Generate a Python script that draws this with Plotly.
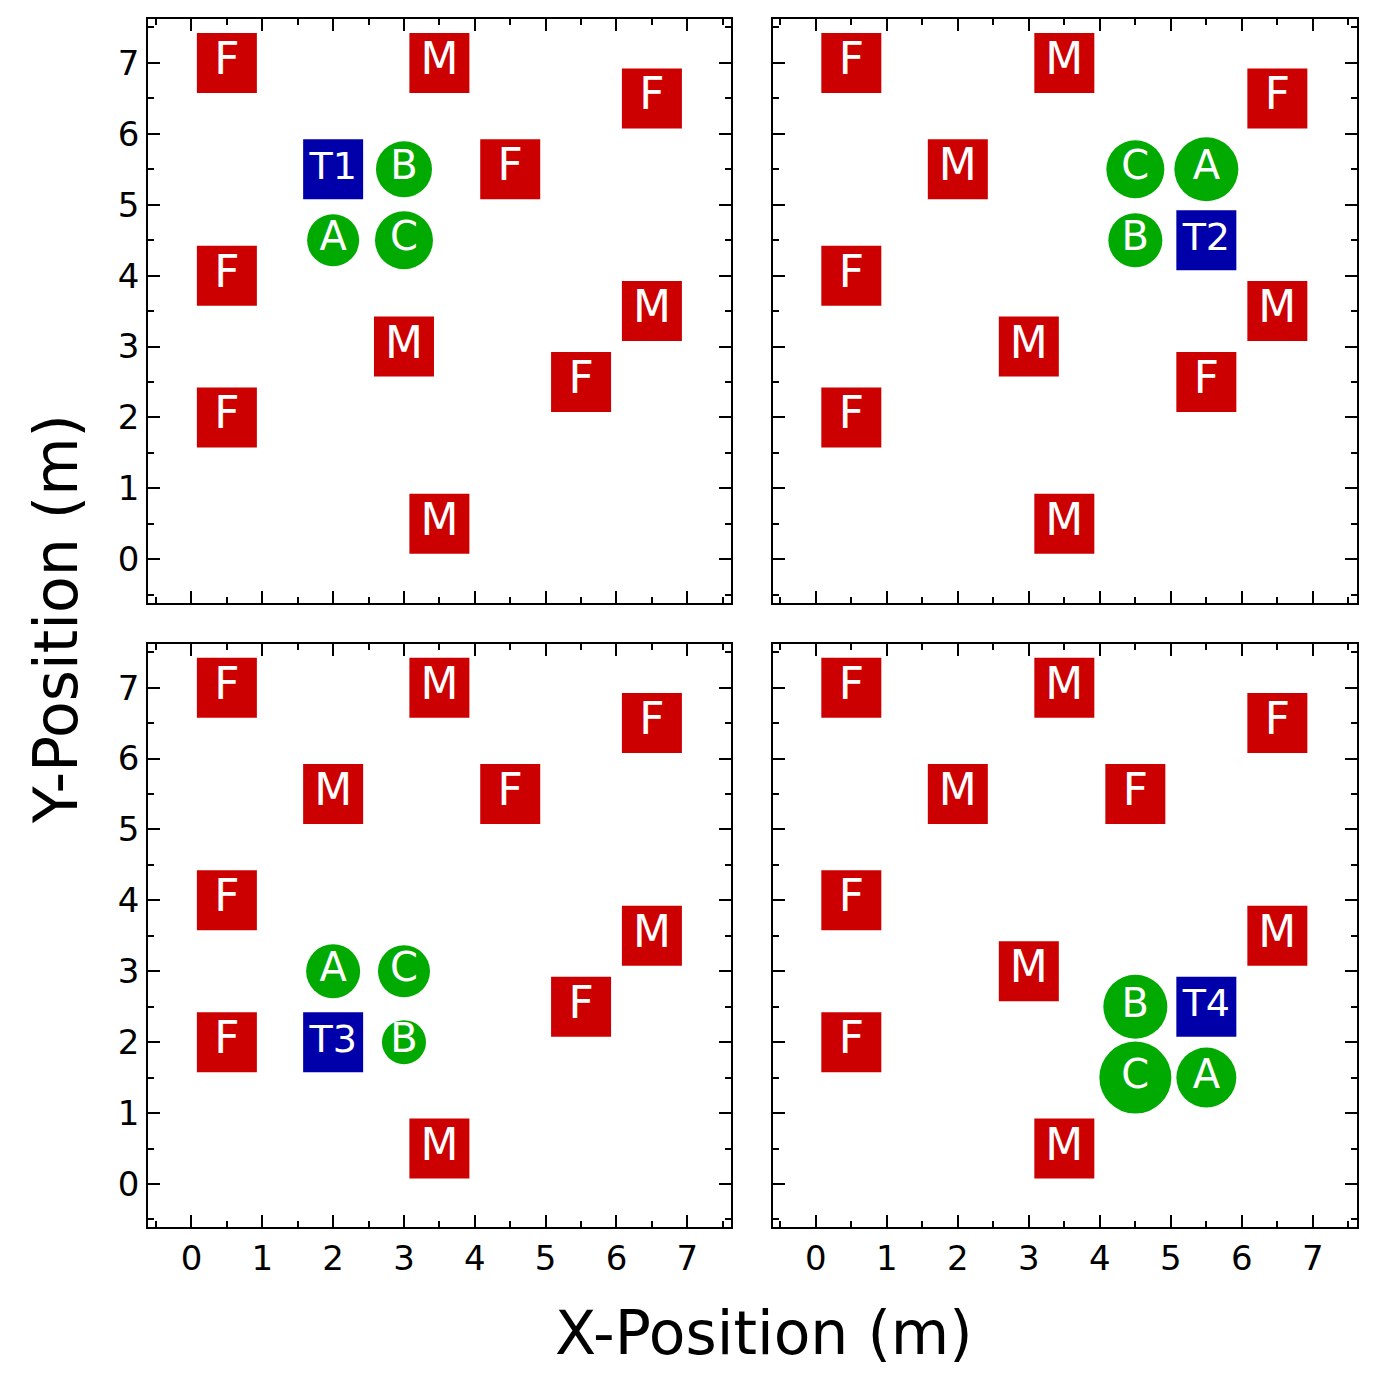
import plotly.graph_objects as go

# red squares (people) shared layout per panel
panels = [
    {  # top-left
        "sq_x": [0.5, 3.5, 6.5, 4.5, 0.5, 6.5, 3.0, 5.5, 0.5, 3.5],
        "sq_y": [7.0, 7.0, 6.5, 5.5, 4.0, 3.5, 3.0, 2.5, 2.0, 0.5],
        "sq_t": ["F", "M", "F", "F", "F", "M", "M", "F", "F", "M"],
        "t_x": 2.0, "t_y": 5.5, "t_t": "T1",
        "c_x": [3.0, 2.0, 3.0], "c_y": [5.5, 4.5, 4.5], "c_t": ["B", "A", "C"],
        "c_s": [56, 52, 58],
    },
    {  # top-right
        "sq_x": [0.5, 3.5, 6.5, 2.0, 0.5, 6.5, 3.0, 5.5, 0.5, 3.5],
        "sq_y": [7.0, 7.0, 6.5, 5.5, 4.0, 3.5, 3.0, 2.5, 2.0, 0.5],
        "sq_t": ["F", "M", "F", "M", "F", "M", "M", "F", "F", "M"],
        "t_x": 5.5, "t_y": 4.5, "t_t": "T2",
        "c_x": [4.5, 5.5, 4.5], "c_y": [5.5, 5.5, 4.5], "c_t": ["C", "A", "B"],
        "c_s": [58, 64, 54],
    },
    {  # bottom-left
        "sq_x": [0.5, 3.5, 6.5, 2.0, 4.5, 0.5, 6.5, 5.5, 0.5, 3.5],
        "sq_y": [7.0, 7.0, 6.5, 5.5, 5.5, 4.0, 3.5, 2.5, 2.0, 0.5],
        "sq_t": ["F", "M", "F", "M", "F", "F", "M", "F", "F", "M"],
        "t_x": 2.0, "t_y": 2.0, "t_t": "T3",
        "c_x": [2.0, 3.0, 3.0], "c_y": [3.0, 3.0, 2.0], "c_t": ["A", "C", "B"],
        "c_s": [54, 52, 44],
    },
    {  # bottom-right
        "sq_x": [0.5, 3.5, 6.5, 2.0, 4.5, 0.5, 6.5, 3.0, 0.5, 3.5],
        "sq_y": [7.0, 7.0, 6.5, 5.5, 5.5, 4.0, 3.5, 3.0, 2.0, 0.5],
        "sq_t": ["F", "M", "F", "M", "F", "F", "M", "M", "F", "M"],
        "t_x": 5.5, "t_y": 2.5, "t_t": "T4",
        "c_x": [4.5, 4.5, 5.5], "c_y": [2.5, 1.5, 1.5], "c_t": ["B", "C", "A"],
        "c_s": [64, 72, 60],
    },
]

x_domains = [[0.102, 0.526], [0.556, 0.981], [0.102, 0.526], [0.556, 0.981]]
y_domains = [[0.567, 0.992], [0.567, 0.992], [0.112, 0.537], [0.112, 0.537]]

RED = "#cc0000"
BLUE = "#0000aa"
GREEN = "#00aa00"
FONT = "DejaVu Sans"

fig = go.Figure()
layout = {}
for i, p in enumerate(panels):
    n = "" if i == 0 else str(i + 1)
    xa, ya = "x" + n, "y" + n
    common = dict(xaxis=xa, yaxis=ya, mode="markers+text", showlegend=False,
                  hoverinfo="skip", textposition="middle center")
    fig.add_trace(go.Scatter(x=p["sq_x"], y=p["sq_y"], text=p["sq_t"],
                             marker=dict(symbol="square", size=60, color=RED, opacity=1),
                             textfont=dict(color="white", size=44, family=FONT),
                             **common))
    fig.add_trace(go.Scatter(x=[p["t_x"]], y=[p["t_y"]], text=[p["t_t"]],
                             marker=dict(symbol="square", size=60, color=BLUE, opacity=1),
                             textfont=dict(color="white", size=38, family=FONT),
                             **common))
    fig.add_trace(go.Scatter(x=p["c_x"], y=p["c_y"], text=p["c_t"],
                             marker=dict(symbol="circle", size=p["c_s"], color=GREEN,
                                         opacity=1, line=dict(width=0)),
                             textfont=dict(color="white", size=40, family=FONT),
                             **common))
    ax = dict(range=[-0.61, 7.62], tickvals=list(range(8)), ticks="inside",
              ticklen=12, tickwidth=2, tickcolor="black", showline=True,
              linecolor="black", linewidth=2, mirror="ticks", showgrid=False,
              zeroline=False, tickfont=dict(size=34, family=FONT, color="black"),
              minor=dict(tickvals=[x + 0.5 for x in range(-1, 8)], ticks="inside",
                         ticklen=6, tickwidth=2, tickcolor="black"))
    xd = dict(ax, domain=x_domains[i], anchor=ya, showticklabels=i >= 2)
    yd = dict(ax, domain=y_domains[i], anchor=xa, showticklabels=i % 2 == 0)
    layout["xaxis" + n] = xd
    layout["yaxis" + n] = yd

fig.update_layout(**layout)
fig.update_layout(
    width=1375, height=1373, margin=dict(l=0, r=0, t=0, b=0),
    plot_bgcolor="white", paper_bgcolor="white",
    annotations=[
        dict(text="X-Position (m)", x=0.55, y=0.035, xref="paper", yref="paper",
             xanchor="center", yanchor="middle", showarrow=False,
             font=dict(size=60, family=FONT, color="black")),
        dict(text="Y-Position (m)", x=0.035, y=0.555, xref="paper", yref="paper",
             xanchor="center", yanchor="middle", showarrow=False, textangle=-90,
             font=dict(size=60, family=FONT, color="black")),
    ],
)

fig.write_html("out.html")
